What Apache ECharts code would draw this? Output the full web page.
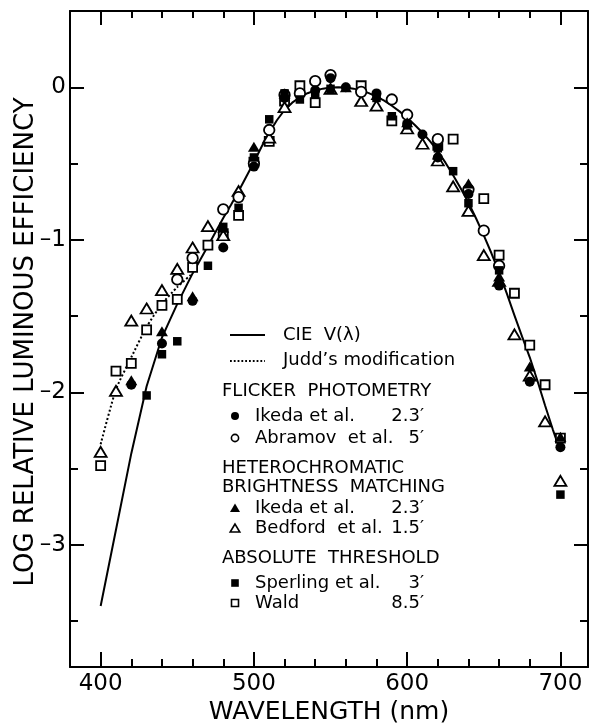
<!DOCTYPE html>
<html><head><meta charset="utf-8">
<script src="https://cdn.jsdelivr.net/npm/echarts@6/dist/echarts.min.js"></script>
<style>html,body{margin:0;padding:0;background:#fff}#c{width:592px;height:724px}</style>
</head><body><div id="c"></div>
<script>
// CIE V(lambda), log10
const cieWl  = [400,410,420,430,440,445,450,455,460,465,470,475,480,485,490,495,500,505,510,515,520,525,530,535,540,545,550,555,560,565,570,575,580,585,590,595,600,605,610,615,620,625,630,635,640,645,650,655,660,665,670,675,680,685,690,695,700];
const cieLog = [-3.40,-2.90,-2.40,-1.96,-1.64,-1.53,-1.42,-1.32,-1.22,-1.13,-1.04,-0.948,-0.857,-0.771,-0.682,-0.587,-0.491,-0.390,-0.298,-0.216,-0.149,-0.101,-0.065,-0.039,-0.021,-0.009,-0.002,0,-0.002,-0.009,-0.021,-0.038,-0.061,-0.088,-0.121,-0.158,-0.200,-0.247,-0.298,-0.355,-0.419,-0.494,-0.577,-0.664,-0.757,-0.860,-0.971,-1.088,-1.215,-1.351,-1.495,-1.635,-1.770,-1.924,-2.086,-2.242,-2.387];
// Judd's modification (short-wave end)
const juddWl  = [400,410,420,430,440,450,460];
const juddLog = [-2.34,-1.98,-1.77,-1.57,-1.42,-1.31,-1.22];
// Flicker photometry
const ikedaFlWl  = [420,440,460,480,500,520,540,550,560,580,600,610,620,640,660,680,700];
const ikedaFlLog = [-1.95,-1.68,-1.40,-1.05,-0.52,-0.07,-0.02,0.06,0.0,-0.04,-0.24,-0.31,-0.46,-0.70,-1.30,-1.93,-2.36];
const abramovWl  = [450,460,480,490,500,510,520,530,540,550,570,590,600,620,640,650,660];
const abramovLog = [-1.26,-1.12,-0.80,-0.72,-0.50,-0.28,-0.05,-0.04,0.04,0.08,-0.03,-0.08,-0.18,-0.34,-0.67,-0.94,-1.17];
// Heterochromatic brightness matching
const ikedaHbWl  = [420,440,460,480,500,520,560,580,600,620,640,660,680,700];
const ikedaHbLog = [-1.92,-1.60,-1.37,-0.92,-0.39,-0.04,0.0,-0.05,-0.23,-0.44,-0.63,-1.24,-1.83,-2.29];
const bedfordWl  = [400,410,420,430,440,450,460,470,480,490,510,520,550,570,580,600,610,620,630,640,650,660,670,680,690,700];
const bedfordLog = [-2.39,-1.99,-1.53,-1.45,-1.33,-1.19,-1.05,-0.91,-0.97,-0.68,-0.33,-0.13,-0.01,-0.09,-0.12,-0.27,-0.37,-0.48,-0.65,-0.81,-1.10,-1.27,-1.62,-1.89,-2.19,-2.58];
// Absolute threshold
const sperlingWl  = [430,440,450,470,480,490,500,510,520,530,540,550,580,590,600,620,630,640,660,700];
const sperlingLog = [-2.02,-1.75,-1.665,-1.17,-0.915,-0.79,-0.46,-0.21,-0.04,-0.08,-0.05,-0.01,-0.07,-0.19,-0.25,-0.40,-0.55,-0.76,-1.20,-2.67];
const waldWl  = [400,410,420,430,440,450,460,470,480,490,500,510,520,530,540,570,590,620,630,650,660,670,680,690,700];
const waldLog = [-2.48,-1.86,-1.81,-1.59,-1.43,-1.39,-1.18,-1.035,-0.96,-0.84,-0.49,-0.355,-0.09,0.01,-0.10,0.01,-0.22,-0.38,-0.34,-0.73,-1.10,-1.35,-1.69,-1.95,-2.30];

const xMajor = [400,500,600,700];
const xMinor = [420,440,460,480,520,540,560,580,620,640,660,680];
const yMajor = [0,-1,-2,-3];
const yMinor = [-0.5,-1.5,-2.5,-3.5];

const zip = (a,b) => a.map((v,i)=>[v,b[i]]);
const FONT = 'DejaVu Sans';
const black = '#000';

function xAx(pos, ticks, len, labels, showLine){
  return {
    type:'value', min:380, max:718, position:pos,
    axisLine:{show:showLine, onZero:false, lineStyle:{color:black,width:2}},
    axisTick:{show:true, inside:true, length:len, lineStyle:{color:black,width:2}, customValues:ticks},
    axisLabel:labels ? {show:true, customValues:ticks, color:black, fontSize:23, fontFamily:FONT, margin:6} : {show:false},
    splitLine:{show:false}
  };
}
function yAx(pos, ticks, len, labels, showLine){
  return {
    type:'value', min:-3.8, max:0.5, position:pos,
    axisLine:{show:showLine, onZero:false, lineStyle:{color:black,width:2}},
    axisTick:{show:true, inside:true, length:len, lineStyle:{color:black,width:2}, customValues:ticks},
    axisLabel:labels ? {show:true, customValues:ticks, color:black, fontSize:23, fontFamily:FONT, margin:4,
       formatter:v => v===0 ? '0' : '\u2013'+Math.abs(v)} : {show:false},
    splitLine:{show:false}
  };
}

function sc(name, wl, vals, symbol, filled, size){
  return {type:'scatter', name, xAxisIndex:0, yAxisIndex:0, data:zip(wl,vals), symbol, symbolSize:size,
    itemStyle:{color: filled ? black : '#fff', borderColor:black, borderWidth: filled ? 0 : 1.8, opacity:1},
    z:5};
}

const chart = echarts.init(document.getElementById('c'), null, {renderer:'canvas'});

const lx = 235, tx = 255, rx = 424;
const tStyle = (text, x, y, align) => ({type:'text', z:10, style:{text, x, y, font:'18px "DejaVu Sans"', fill:black, align:align||'left', verticalAlign:'middle'}});
const graphics = [
  {type:'text', x:329, y:712, z:10, style:{text:'WAVELENGTH (nm)', font:'25px "DejaVu Sans"', fill:black, align:'center', verticalAlign:'middle'}},
  {type:'text', x:26, y:342, rotation:Math.PI/2, z:10, style:{text:'LOG RELATIVE LUMINOUS EFFICIENCY', font:'26px "DejaVu Sans"', fill:black, align:'center', verticalAlign:'middle'}},
  {type:'line', shape:{x1:230,y1:335,x2:265,y2:335}, style:{stroke:black,lineWidth:2}},
  tStyle('CIE  V(\u03bb)', 283, 335),
  {type:'line', shape:{x1:230,y1:361,x2:265,y2:361}, style:{stroke:black,lineWidth:1.8,lineDash:[1.8,2]}},
  tStyle('Judd\u2019s modification', 283, 360),
  tStyle('FLICKER  PHOTOMETRY', 222, 391),
  {type:'circle', shape:{cx:lx,cy:416,r:4}, style:{fill:black}},
  tStyle('Ikeda et al.', tx, 416), tStyle('2.3\u2032', rx, 416, 'right'),
  {type:'circle', shape:{cx:lx,cy:438,r:3.6}, style:{fill:'#fff',stroke:black,lineWidth:1.6}},
  tStyle('Abramov  et al.', tx, 438), tStyle('5\u2032', rx, 438, 'right'),
  tStyle('HETEROCHROMATIC', 222, 468),
  tStyle('BRIGHTNESS  MATCHING', 222, 487),
  {type:'polygon', shape:{points:[[lx,503.5],[lx-5,512],[lx+5,512]]}, style:{fill:black}},
  tStyle('Ikeda et al.', tx, 508), tStyle('2.3\u2032', rx, 508, 'right'),
  {type:'polygon', shape:{points:[[lx,524],[lx-4.8,532],[lx+4.8,532]]}, style:{fill:'#fff',stroke:black,lineWidth:1.6}},
  tStyle('Bedford  et al.', tx, 528), tStyle('1.5\u2032', rx, 528, 'right'),
  tStyle('ABSOLUTE  THRESHOLD', 222, 558),
  {type:'rect', shape:{x:lx-3.8,y:579.2,width:7.6,height:7.6}, style:{fill:black}},
  tStyle('Sperling et al.', tx, 583), tStyle('3\u2032', rx, 583, 'right'),
  {type:'rect', shape:{x:lx-3.5,y:599.5,width:7,height:7}, style:{fill:'#fff',stroke:black,lineWidth:1.6}},
  tStyle('Wald', tx, 603), tStyle('8.5\u2032', rx, 603, 'right')
];

chart.setOption({
  animation:false,
  backgroundColor:'#fff',
  grid:{left:70, right:4, top:11, bottom:57, containLabel:false, outerBoundsMode:'none'},
  xAxis:[
    xAx('bottom', xMajor, 15, true, true),
    xAx('bottom', xMinor, 8, false, false),
    xAx('top', xMajor, 14, false, true),
    xAx('top', xMinor, 7, false, false)
  ],
  yAxis:[
    yAx('left', yMajor, 14, true, true),
    yAx('left', yMinor, 8, false, false),
    yAx('right', yMajor, 14, false, true),
    yAx('right', yMinor, 8, false, false)
  ],
  series:[
    {type:'line', name:'CIE V(\u03bb)', xAxisIndex:0, yAxisIndex:0, data:zip(cieWl,cieLog), smooth:false, showSymbol:false, symbol:'none',
      lineStyle:{color:black,width:2}, z:2},
    {type:'line', name:"Judd's modification", xAxisIndex:0, yAxisIndex:0, data:zip(juddWl,juddLog), smooth:0.2, showSymbol:false, symbol:'none',
      lineStyle:{color:black,width:2,type:[2,2.2]}, z:2},
    sc('Wald', waldWl, waldLog, 'rect', false, 9),
    sc('Bedford et al.', bedfordWl, bedfordLog, 'triangle', false, [12,10]),
    sc('Abramov et al.', abramovWl, abramovLog, 'circle', false, 10.5),
    sc('Sperling et al.', sperlingWl, sperlingLog, 'rect', true, 8.5),
    sc('Ikeda et al. (HBM)', ikedaHbWl, ikedaHbLog, 'triangle', true, [12,10]),
    sc('Ikeda et al. (flicker)', ikedaFlWl, ikedaFlLog, 'circle', true, 10)
  ],
  graphic:graphics
});
</script></body></html>
